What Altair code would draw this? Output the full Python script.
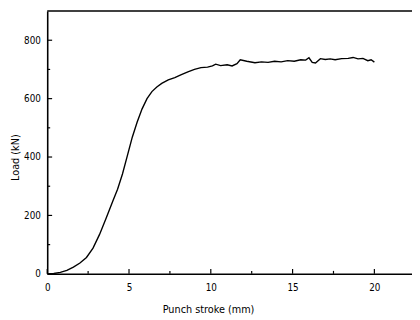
import altair as alt
import pandas as pd

stroke_mm = [0, 0.4, 0.8, 1.2, 1.6, 2.0, 2.4, 2.8, 3.2, 3.6, 4.0, 4.3, 4.6, 4.9, 5.2, 5.5,
             5.8, 6.1, 6.4, 6.7, 7.0, 7.4, 7.8, 8.2, 8.6, 9.0, 9.4, 9.8, 10.1, 10.3, 10.6,
             11.0, 11.3, 11.6, 11.8, 12.2, 12.7, 13.1, 13.5, 13.9, 14.3, 14.7, 15.1, 15.5,
             15.8, 16.0, 16.2, 16.4, 16.7, 17.0, 17.3, 17.6, 18.0, 18.4, 18.7, 19.0, 19.3,
             19.6, 19.8, 20.0]
load_kn = [0, 1, 5, 12, 23, 37, 56, 88, 135, 190, 248, 290, 342, 405, 468, 520,
           565, 600, 624, 640, 652, 664, 672, 682, 692, 700, 706, 708, 712, 718, 713,
           716, 712, 720, 733, 728, 723, 726, 724, 728, 726, 730, 728, 733,
           732, 740, 724, 722, 737, 734, 736, 733, 737, 738, 741, 736, 738,
           730, 733, 725]

x_major = [0, 5, 10, 15, 20]
x_minor = [2.5, 7.5, 12.5, 17.5]
y_major = [0, 200, 400, 600, 800]
y_minor = [100, 300, 500, 700]

FONT = "DejaVu Sans Condensed, Liberation Sans, sans-serif"
W, H = 372, 268

xs = alt.Scale(domain=[0, 22.3], nice=False, zero=False)
ys = alt.Scale(domain=[0, 900], nice=False)

df = pd.DataFrame({"x": stroke_mm, "y": load_kn})

line = alt.Chart(df).mark_line(color="black", strokeWidth=1.4).encode(
    x=alt.X("x:Q", scale=xs,
            axis=alt.Axis(values=x_major, ticks=False, grid=False, title="Punch stroke (mm)",
                          domainColor="black", domainWidth=1.6, labelFont=FONT, labelFontSize=10,
                          labelColor="black", labelPadding=9, titleFont=FONT, titleFontSize=11,
                          titleFontWeight="normal", titleColor="black", titleX=164, titleY=36,
                          titleBaseline="middle", titleAnchor="middle", titleAlign="center",
                          labelFlush=False)),
    y=alt.Y("y:Q", scale=ys,
            axis=alt.Axis(values=y_major, ticks=False, grid=False, title="Load (kN)",
                          domainColor="black", domainWidth=1.6, labelFont=FONT, labelFontSize=10,
                          labelColor="black", labelPadding=7, titleFont=FONT, titleFontSize=11,
                          titleFontWeight="normal", titleColor="black", titleX=-32, titleY=149,
                          titleBaseline="middle", titleAlign="center", titleAngle=270,
                          labelFlush=False)),
)

def xticks(vals, length):
    d = pd.DataFrame({"x": vals})
    return alt.Chart(d).mark_rule(color="black", strokeWidth=1.2).encode(
        x=alt.X("x:Q", scale=xs), y=alt.value(H), y2=alt.value(H - length))

def yticks(vals, length):
    d = pd.DataFrame({"y": vals})
    return alt.Chart(d).mark_rule(color="black", strokeWidth=1.2).encode(
        y=alt.Y("y:Q", scale=ys), x=alt.value(0), x2=alt.value(length))

top = alt.Chart(pd.DataFrame({"a": [0]})).mark_rule(color="black", strokeWidth=1.5).encode(
    x=alt.value(0), x2=alt.value(W), y=alt.value(0))

chart = alt.layer(
    line, xticks(x_major, 5), xticks(x_minor, 3), yticks(y_major, 5), yticks(y_minor, 3), top
).properties(
    width=W, height=H,
    autosize=alt.AutoSizeParams(type="none"),
    padding={"left": 40, "top": 0, "right": 0, "bottom": 44},
    background="white",
).configure_view(stroke=None)

chart.save("out.html", embed_options={"renderer": "svg", "actions": False})
